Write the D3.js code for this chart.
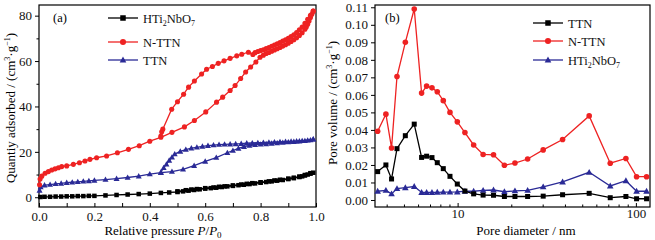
<!DOCTYPE html>
<html lang="en">

<head>
    <meta charset="utf-8">
    <script src="https://d3js.org/d3.v7.min.js"></script>
    <style>
        body { margin: 0; background: #fff; }
        svg { font-family: "Liberation Serif", "Times New Roman", serif; }
    </style>
</head>

<body>
    <svg id="chart" width="655" height="240"></svg>

    <script>
        // ---- panel (a): isotherms ----
        const hAdsP = [0.005, 0.02, 0.04, 0.06, 0.08, 0.10, 0.12, 0.14, 0.16, 0.18, 0.20, 0.24, 0.28, 0.32, 0.36, 0.40, 0.44, 0.47, 0.50, 0.52, 0.54, 0.56, 0.58, 0.60, 0.62, 0.64, 0.66, 0.68, 0.70, 0.72, 0.74, 0.76, 0.78, 0.80, 0.82, 0.84, 0.86, 0.88, 0.90, 0.92, 0.94, 0.95, 0.96, 0.97, 0.98, 0.99];
        const hAdsV = [0.1, 0.2, 0.2, 0.3, 0.3, 0.4, 0.4, 0.5, 0.5, 0.6, 0.6, 0.8, 1.0, 1.2, 1.4, 1.6, 1.9, 2.1, 2.3, 2.6, 2.9, 3.2, 3.5, 3.8, 4.0, 4.2, 4.5, 4.8, 5.0, 5.3, 5.5, 5.8, 6.1, 6.4, 6.7, 7.0, 7.3, 7.6, 8.0, 8.4, 8.9, 9.2, 9.6, 10.0, 10.4, 10.8];
        const hDesP = [0.98, 0.96, 0.94, 0.92, 0.90, 0.87, 0.85, 0.83, 0.80, 0.77, 0.75, 0.73, 0.70, 0.67, 0.65, 0.63, 0.60, 0.57, 0.55, 0.53, 0.50];
        const hDesV = [10.6, 9.8, 9.1, 8.6, 8.2, 7.7, 7.4, 7.0, 6.6, 6.2, 5.9, 5.6, 5.2, 4.8, 4.6, 4.3, 4.0, 3.6, 3.4, 3.1, 2.6];

        const nAdsP = [0.002, 0.004, 0.01, 0.022, 0.034, 0.046, 0.058, 0.07, 0.082, 0.10, 0.124, 0.146, 0.166, 0.184, 0.208, 0.244, 0.283, 0.323, 0.362, 0.40, 0.44, 0.48, 0.525, 0.561, 0.602, 0.641, 0.663, 0.69, 0.708, 0.728, 0.746, 0.764, 0.783, 0.798, 0.81, 0.82, 0.83, 0.84, 0.85, 0.86, 0.87, 0.88, 0.89, 0.90, 0.91, 0.92, 0.93, 0.94, 0.95, 0.96, 0.965, 0.97, 0.975, 0.98, 0.985, 0.99];
        const nAdsV = [5.5, 8.0, 9.3, 10.6, 11.3, 12.0, 12.5, 13.0, 13.5, 13.8, 14.5, 15.2, 16.0, 16.7, 17.4, 18.2, 19.6, 21.1, 22.7, 24.7, 26.4, 28.6, 31.0, 33.8, 37.6, 41.9, 44.1, 47.0, 49.2, 52.3, 55.2, 57.4, 59.6, 61.7, 62.6, 63.3, 63.8, 64.3, 64.9, 65.4, 66.0, 66.6, 67.2, 67.9, 68.6, 69.4, 70.3, 71.3, 72.5, 74.0, 75.0, 76.2, 77.6, 79.2, 80.6, 82.0];
        const nDesP = [0.99, 0.98, 0.97, 0.96, 0.95, 0.94, 0.93, 0.92, 0.91, 0.90, 0.89, 0.88, 0.87, 0.86, 0.85, 0.84, 0.83, 0.82, 0.81, 0.80, 0.79, 0.78, 0.772, 0.756, 0.732, 0.714, 0.69, 0.668, 0.647, 0.626, 0.605, 0.587, 0.561, 0.54, 0.522, 0.50, 0.479, 0.447, 0.443, 0.44];
        const nDesV = [82.0, 80.2, 78.4, 76.6, 75.0, 73.8, 72.6, 71.6, 70.8, 70.0, 69.4, 68.8, 68.2, 67.6, 67.0, 66.5, 66.0, 65.5, 65.0, 64.6, 64.2, 63.7, 62.9, 63.9, 63.0, 62.3, 61.2, 60.1, 59.0, 57.6, 56.4, 54.3, 51.2, 48.5, 45.4, 42.1, 38.8, 30.0, 28.8, 27.0];

        const tAdsP = [0.002, 0.006, 0.02, 0.04, 0.06, 0.08, 0.10, 0.12, 0.14, 0.16, 0.18, 0.20, 0.24, 0.28, 0.32, 0.36, 0.40, 0.44, 0.48, 0.52, 0.56, 0.60, 0.64, 0.68, 0.70, 0.72, 0.74, 0.76, 0.78, 0.80, 0.82, 0.84, 0.86, 0.88, 0.90, 0.92, 0.94, 0.96, 0.98, 0.99];
        const tAdsV = [3.0, 4.5, 5.3, 5.6, 5.9, 6.1, 6.4, 6.6, 6.8, 7.0, 7.2, 7.4, 7.8, 8.2, 8.7, 9.3, 10.2, 10.8, 11.3, 12.3, 13.9, 15.8, 17.5, 19.6, 20.6, 21.5, 22.3, 22.8, 23.1, 23.3, 23.5, 23.7, 23.9, 24.1, 24.3, 24.5, 24.7, 24.9, 25.2, 25.5];
        const tDesP = [0.99, 0.97, 0.95, 0.93, 0.91, 0.89, 0.87, 0.85, 0.83, 0.81, 0.79, 0.77, 0.75, 0.73, 0.71, 0.69, 0.67, 0.65, 0.63, 0.61, 0.59, 0.57, 0.55, 0.53, 0.51, 0.49, 0.48, 0.47, 0.46, 0.45, 0.44];
        const tDesV = [25.6, 25.1, 24.9, 24.7, 24.6, 24.5, 24.4, 24.3, 24.2, 24.1, 24.0, 23.9, 23.8, 23.6, 23.5, 23.4, 23.3, 23.2, 23.0, 22.7, 22.4, 22.0, 21.6, 21.0, 20.2, 19.0, 17.6, 16.2, 14.5, 13.0, 11.0];

        // ---- panel (b): pore size distribution ----
        const poreD = [3.56, 3.96, 4.26, 4.57, 5.09, 5.71, 6.28, 6.70, 7.18, 7.69, 8.31, 9.06, 9.96, 10.99, 12.3, 13.9, 15.9, 18.3, 20.97, 24.7, 30.2, 38.8, 54.7, 71.8, 87.9, 100.9, 114.8];
        const ttnVol = [0.0162, 0.0200, 0.0120, 0.0293, 0.0367, 0.0433, 0.0243, 0.0250, 0.0242, 0.0213, 0.0179, 0.0135, 0.0091, 0.0051, 0.0035, 0.0028, 0.0027, 0.0020, 0.0020, 0.0020, 0.0022, 0.0030, 0.0038, 0.0013, 0.0020, 0.0007, 0.0007];
        const nttnVol = [0.0392, 0.0490, 0.0297, 0.0705, 0.0900, 0.1090, 0.0610, 0.0650, 0.0640, 0.0618, 0.0567, 0.0500, 0.0446, 0.0385, 0.0314, 0.0260, 0.0258, 0.0198, 0.0211, 0.0234, 0.0286, 0.0345, 0.0480, 0.0210, 0.0237, 0.0133, 0.0133];
        const hVol = [0.0050, 0.0055, 0.0035, 0.0065, 0.0070, 0.0077, 0.0043, 0.0043, 0.0043, 0.0044, 0.0045, 0.0045, 0.0046, 0.0050, 0.0050, 0.0055, 0.0057, 0.0047, 0.0052, 0.0055, 0.0075, 0.0103, 0.0158, 0.0080, 0.0110, 0.0050, 0.0050];

        const RED = "#ee2222", BLUE = "#2a2a96", BLACK = "#000";

        const svg = d3.select("#chart");
        const zip = (xs, ys) => xs.map((x, i) => [x, ys[i]]);

        // marker drawing helper
        function marker(g, shape, x, y, color, s) {
            if (shape === "square") {
                g.append("rect").attr("x", x - s / 2).attr("y", y - s / 2)
                    .attr("width", s).attr("height", s).attr("fill", color);
            } else if (shape === "circle") {
                g.append("circle").attr("cx", x).attr("cy", y).attr("r", s / 2 + 0.3).attr("fill", color);
            } else {
                g.append("path")
                    .attr("d", `M${x},${y - s * 0.62}L${x + s * 0.6},${y + s * 0.45}L${x - s * 0.6},${y + s * 0.45}Z`)
                    .attr("fill", color);
            }
        }

        function series(g, pts, x, y, color, shape, s) {
            const line = d3.line().x(d => x(d[0])).y(d => y(d[1]));
            g.append("path").datum(pts).attr("d", line)
                .attr("fill", "none").attr("stroke", color).attr("stroke-width", 1.3);
            const mg = g.append("g");
            pts.forEach(d => marker(mg, shape, x(d[0]), y(d[1]), color, s));
        }

        function legend(g, items, x0, y0s, textX) {
            items.forEach((it, i) => {
                const y = y0s[i];
                g.append("line").attr("x1", x0).attr("x2", x0 + 30).attr("y1", y).attr("y2", y)
                    .attr("stroke", it.color).attr("stroke-width", 1.3);
                marker(g, it.shape, x0 + 15, y, it.color, 5.5);
                const t = g.append("text").attr("x", textX).attr("y", y + 4.5)
                    .attr("font-size", 12.5).attr("fill", "#111");
                it.label(t);
            });
        }

        const labelH = t => {
            t.append("tspan").text("HTi");
            t.append("tspan").attr("font-size", 8).attr("dy", 3).text("2");
            t.append("tspan").attr("dy", -3).text("NbO");
            t.append("tspan").attr("font-size", 8).attr("dy", 3).text("7");
        };

        // ================= panel (a) =================
        const ax = { l: 39, r: 316, t: 5, b: 207 };
        const xA = d3.scaleLinear().domain([0, 1]).range([ax.l, ax.r]);
        const yA = d3.scaleLinear().domain([-4.3, 84.7]).range([ax.b, ax.t]);
        const ga = svg.append("g");

        // frame
        ga.append("rect").attr("x", ax.l).attr("y", ax.t).attr("width", ax.r - ax.l).attr("height", ax.b - ax.t)
            .attr("fill", "none").attr("stroke", "#000").attr("stroke-width", 1.2);

        // x axis (ticks inward)
        ga.append("g").attr("transform", `translate(0,${ax.b})`)
            .call(d3.axisBottom(xA).tickValues(d3.range(0, 1.01, 0.1)).tickSize(-4).tickFormat(""))
            .call(g => g.select(".domain").remove());
        ga.append("g").attr("transform", `translate(0,${ax.b})`)
            .call(d3.axisBottom(xA).tickValues([0, 0.2, 0.4, 0.6, 0.8, 1.0]).tickSize(0).tickPadding(5).tickFormat(d3.format(".1f")))
            .call(g => g.select(".domain").remove());
        // y axis (ticks outward)
        ga.append("g").attr("transform", `translate(${ax.l},0)`)
            .call(d3.axisLeft(yA).tickValues([10, 30, 50, 70]).tickSize(2.5).tickFormat(""))
            .call(g => g.select(".domain").remove());
        ga.append("g").attr("transform", `translate(${ax.l},0)`)
            .call(d3.axisLeft(yA).tickValues([0, 20, 40, 60, 80]).tickSize(4).tickPadding(3))
            .call(g => g.select(".domain").remove());

        ga.selectAll(".tick text").attr("font-size", 13).attr("font-family", "Liberation Serif").attr("fill", "#111");
        ga.selectAll(".tick line").attr("stroke", "#000");

        const pa = ga.append("g");
        series(pa, zip(tAdsP, tAdsV), xA, yA, BLUE, "triangle", 5);
        series(pa, zip(tDesP, tDesV), xA, yA, BLUE, "triangle", 5);
        series(pa, zip(hAdsP, hAdsV), xA, yA, BLACK, "square", 4.5);
        series(pa, zip(hDesP, hDesV), xA, yA, BLACK, "square", 4.5);
        series(pa, zip(nAdsP, nAdsV), xA, yA, RED, "circle", 4.5);
        series(pa, zip(nDesP, nDesV), xA, yA, RED, "circle", 4.5);

        ga.append("text").attr("x", 53).attr("y", 22).attr("font-size", 12.5).text("(a)");
        legend(ga, [
            { color: BLACK, shape: "square", label: labelH },
            { color: RED, shape: "circle", label: t => t.text("N-TTN") },
            { color: BLUE, shape: "triangle", label: t => t.text("TTN") }
        ], 108, [18, 42, 60], 143);

        // axis titles
        const xtA = ga.append("text").attr("x", 163).attr("y", 235).attr("text-anchor", "middle").attr("font-size", 13);
        xtA.append("tspan").text("Relative pressure ");
        xtA.append("tspan").attr("font-style", "italic").text("P");
        xtA.append("tspan").text("/");
        xtA.append("tspan").attr("font-style", "italic").text("P");
        xtA.append("tspan").attr("font-size", 9).attr("dy", 3).text("0");

        const ytA = ga.append("text").attr("transform", "translate(15,108) rotate(-90)")
            .attr("text-anchor", "middle").attr("font-size", 13);
        ytA.append("tspan").text("Quantiy adsorbed / (cm");
        ytA.append("tspan").attr("font-size", 8).attr("dy", -5).text("3");
        ytA.append("tspan").attr("dy", 5).text("·g");
        ytA.append("tspan").attr("font-size", 8).attr("dy", -5).text("−1");
        ytA.append("tspan").attr("dy", 5).text(")");

        // ================= panel (b) =================
        const bx = { l: 375, r: 650, t: 5, b: 207 };
        const xB = d3.scaleLog().domain([3.44, 120]).range([bx.l, bx.r]);
        const yB = d3.scaleLinear().domain([-0.004, 0.1113]).range([bx.b, bx.t]);
        const gb = svg.append("g");

        gb.append("rect").attr("x", bx.l).attr("y", bx.t).attr("width", bx.r - bx.l).attr("height", bx.b - bx.t)
            .attr("fill", "none").attr("stroke", "#000").attr("stroke-width", 1.2);

        const minorB = [4, 5, 6, 7, 8, 9, 20, 30, 40, 50, 60, 70, 80, 90];
        gb.append("g").attr("transform", `translate(0,${bx.b})`)
            .call(d3.axisBottom(xB).tickValues(minorB).tickSize(-2.5).tickFormat(""))
            .call(g => g.select(".domain").remove());
        gb.append("g").attr("transform", `translate(0,${bx.b})`)
            .call(d3.axisBottom(xB).tickValues([10, 100]).tickSize(-4).tickPadding(2).tickFormat(d3.format("d")))
            .call(g => g.select(".domain").remove());
        gb.append("g").attr("transform", `translate(${bx.l},0)`)
            .call(d3.axisLeft(yB).tickValues(d3.range(0, 0.1101, 0.01)).tickSize(4).tickPadding(3).tickFormat(d3.format(".2f")))
            .call(g => g.select(".domain").remove());

        gb.selectAll(".tick text").attr("font-size", 13).attr("font-family", "Liberation Serif").attr("fill", "#111");
        gb.selectAll(".tick line").attr("stroke", "#000");

        const pb = gb.append("g");
        series(pb, zip(poreD, hVol), xB, yB, BLUE, "triangle", 5.5);
        series(pb, zip(poreD, ttnVol), xB, yB, BLACK, "square", 5);
        series(pb, zip(poreD, nttnVol), xB, yB, RED, "circle", 5);

        gb.append("text").attr("x", 385).attr("y", 22).attr("font-size", 12.5).text("(b)");
        legend(gb, [
            { color: BLACK, shape: "square", label: t => t.text("TTN") },
            { color: RED, shape: "circle", label: t => t.text("N-TTN") },
            { color: BLUE, shape: "triangle", label: labelH }
        ], 533, [23, 41, 60], 568);

        gb.append("text").attr("x", 526).attr("y", 235).attr("text-anchor", "middle").attr("font-size", 13)
            .text("Pore diameter / nm");

        const ytB = gb.append("text").attr("transform", "translate(337,103) rotate(-90)")
            .attr("text-anchor", "middle").attr("font-size", 13);
        ytB.append("tspan").text("Pore volume / (cm");
        ytB.append("tspan").attr("font-size", 8).attr("dy", -5).text("3");
        ytB.append("tspan").attr("dy", 5).text("·g");
        ytB.append("tspan").attr("font-size", 8).attr("dy", -5).text("−1");
        ytB.append("tspan").attr("dy", 5).text(")");
    </script>
</body>

</html>
